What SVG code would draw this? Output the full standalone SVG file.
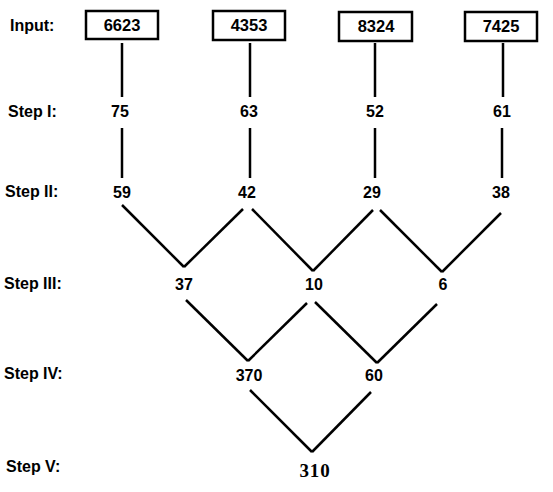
<svg xmlns="http://www.w3.org/2000/svg" width="553" height="492" viewBox="0 0 553 492">
<style>
.lbl{font-family:"Liberation Sans",Arial,sans-serif;font-weight:bold;font-size:16px;fill:#000}
.val{font-family:"Liberation Sans",Arial,sans-serif;font-weight:bold;font-size:16px;fill:#000;text-anchor:middle}
.box{fill:#fff;stroke:#000;stroke-width:2.5}
.fin{font-family:"Liberation Serif","Times New Roman",serif;font-weight:bold;font-size:19px;fill:#000;text-anchor:middle;letter-spacing:0.8px}
#connectors line{stroke:#000;stroke-width:2.5;stroke-linecap:butt}
</style>
<rect width="553" height="492" fill="#fff"/>
<g id="labels">
<text class="lbl" x="10" y="31">Input:</text>
<text class="lbl" x="8" y="117">Step I:</text>
<text class="lbl" x="5" y="197">Step II:</text>
<text class="lbl" x="4" y="289">Step III:</text>
<text class="lbl" x="4" y="379">Step IV:</text>
<text class="lbl" x="6" y="472">Step V:</text>
</g>
<g id="connectors">
<line x1="122" y1="43" x2="122" y2="97"/>
<line x1="250" y1="43" x2="250" y2="97"/>
<line x1="375" y1="43" x2="375" y2="97"/>
<line x1="503" y1="43" x2="503" y2="97"/>
<line x1="122" y1="128" x2="122" y2="178"/>
<line x1="250" y1="128" x2="250" y2="178"/>
<line x1="375" y1="128" x2="375" y2="178"/>
<line x1="502" y1="128" x2="502" y2="178"/>
<line x1="122" y1="205" x2="184" y2="267"/>
<line x1="243" y1="209" x2="184" y2="267"/>
<line x1="252" y1="209" x2="313" y2="271"/>
<line x1="373" y1="210" x2="313" y2="271"/>
<line x1="380" y1="210" x2="442" y2="272"/>
<line x1="501" y1="213" x2="442" y2="272"/>
<line x1="186" y1="300" x2="248" y2="361"/>
<line x1="307" y1="303" x2="248" y2="361"/>
<line x1="315" y1="302" x2="377" y2="363"/>
<line x1="437" y1="304" x2="377" y2="363"/>
<line x1="250" y1="390" x2="312" y2="452"/>
<line x1="371" y1="392" x2="312" y2="452"/>
</g>
<g id="in1"><rect class="box" x="86" y="11" width="72" height="28"/><text class="val" x="122" y="31" style="font-size:16.5px">6623</text></g>
<g id="in2"><rect class="box" x="213" y="11" width="72" height="29"/><text class="val" x="249" y="31" style="font-size:16.5px">4353</text></g>
<g id="in3"><rect class="box" x="339" y="12" width="73" height="29"/><text class="val" x="376" y="32" style="font-size:16.5px">8324</text></g>
<g id="in4"><rect class="box" x="465" y="12" width="72" height="29"/><text class="val" x="501" y="32" style="font-size:16.5px">7425</text></g>
<g id="s1a"><text class="val" x="120" y="117">75</text></g>
<g id="s1b"><text class="val" x="249" y="117">63</text></g>
<g id="s1c"><text class="val" x="375" y="117">52</text></g>
<g id="s1d"><text class="val" x="502" y="117">61</text></g>
<g id="s2a"><text class="val" x="122" y="198">59</text></g>
<g id="s2b"><text class="val" x="247" y="198">42</text></g>
<g id="s2c"><text class="val" x="372" y="198">29</text></g>
<g id="s2d"><text class="val" x="501" y="198">38</text></g>
<g id="s3a"><text class="val" x="184" y="290">37</text></g>
<g id="s3b"><text class="val" x="314" y="290">10</text></g>
<g id="s3c"><text class="val" x="443" y="290">6</text></g>
<g id="s4a"><text class="val" x="249" y="381">370</text></g>
<g id="s4b"><text class="val" x="374" y="381">60</text></g>
<g id="s5"><text class="fin" x="315" y="477">310</text></g>
</svg>
